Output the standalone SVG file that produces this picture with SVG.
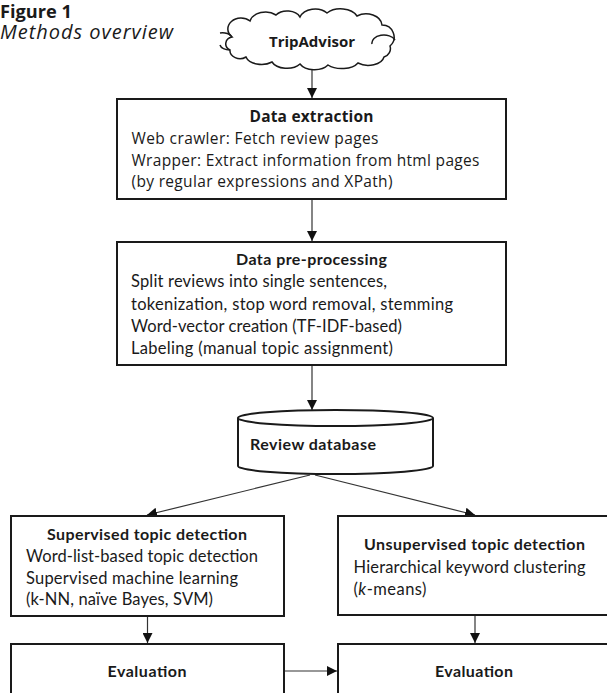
<svg xmlns="http://www.w3.org/2000/svg" width="607" height="693" viewBox="0 0 607 693">
<style>
.box{fill:#fff;stroke:#1a1a1a;stroke-width:2}
.ln{fill:none;stroke:#333;stroke-width:1.2}
.os{font-family:"Open Sans","Liberation Sans",sans-serif;fill:#1a1a1a}
.la{font-family:Lato,"Liberation Sans",sans-serif;fill:#1a1a1a}
.b{font-weight:bold}
.c{text-anchor:middle}
.r{font-size:16.5px}
.h{font-size:16px}
</style>
<defs>
<marker id="ah" viewBox="0 0 10 10" refX="10" refY="5" markerWidth="10" markerHeight="10" markerUnits="userSpaceOnUse" orient="auto">
<path d="M0,0 L10,5 L0,10 z" fill="#111"/>
</marker>
</defs>
<rect width="607" height="693" fill="#fff"/>
<g id="title">
<text class="os b" x="0" y="18" font-size="18.5" textLength="72" lengthAdjust="spacingAndGlyphs">Figure 1</text>
<text class="os" x="0" y="39" font-size="20" font-style="italic" textLength="173" lengthAdjust="spacing">Methods overview</text>
</g>
<g id="connectors">
<line class="ln" x1="312" y1="65" x2="312" y2="98" marker-end="url(#ah)"/>
<line class="ln" x1="312" y1="199" x2="312" y2="241" marker-end="url(#ah)"/>
<line class="ln" x1="312" y1="365" x2="312" y2="410" marker-end="url(#ah)"/>
<line class="ln" x1="310" y1="475" x2="147" y2="515" marker-end="url(#ah)"/>
<line class="ln" x1="315" y1="475" x2="475" y2="515" marker-end="url(#ah)"/>
<line class="ln" x1="147.5" y1="616" x2="147.5" y2="643" marker-end="url(#ah)"/>
<line class="ln" x1="475" y1="615" x2="475" y2="643" marker-end="url(#ah)"/>
<line class="ln" x1="285" y1="671" x2="337" y2="671" marker-end="url(#ah)"/>
</g>
<g id="tripadvisor">
<path fill="#fff" stroke="#1a1a1a" stroke-width="1.5" d="M232,37 A12,10 0 0 1 250,21 A16,12 0 0 1 276,15 A14,10 0 0 1 300,17 A16,12 0 0 1 327,13 A18,12 0 0 1 357,16 A16,12 0 0 1 382,25 A12,12 0 0 1 390,46 A10,9 0 0 1 384,57 A16,10 0 0 1 358,63 A18,10 0 0 1 328,65 A16,10 0 0 1 300,64 A16,10 0 0 1 272,62 A16,10 0 0 1 246,57 A10,8 0 0 1 230,50 A8,7 0 0 1 232,37 Z"/>
<path fill="none" stroke="#1a1a1a" stroke-width="1.5" d="M232,37 A10,6 0 0 0 220,33 M230,50 A10,6 0 0 1 220,45 M372,44 A12,8 0 0 1 395,40"/>
<text class="os b c" x="312" y="47" font-size="15">TripAdvisor</text>
</g>
<g id="data-extraction">
<rect class="box" x="117" y="99" width="389" height="100"/>
<text class="os b c" x="311.5" y="122" font-size="15.5" textLength="124" lengthAdjust="spacing">Data extraction</text>
<text class="os" x="131.5" y="143.5" font-size="15.5" textLength="247" lengthAdjust="spacing">Web crawler: Fetch review pages</text>
<text class="os" x="131.5" y="165.5" font-size="15.5" textLength="348" lengthAdjust="spacing">Wrapper: Extract information from html pages</text>
<text class="os" x="131.5" y="187" font-size="15.5" textLength="261" lengthAdjust="spacing">(by regular expressions and XPath)</text>
</g>
<g id="data-preprocessing">
<rect class="box" x="117" y="242" width="389" height="123"/>
<text class="la b c h" x="311.5" y="264.5" textLength="151" lengthAdjust="spacing">Data pre-processing</text>
<text class="la r" x="131" y="287" textLength="256" lengthAdjust="spacing">Split reviews into single sentences,</text>
<text class="la r" x="131" y="309.5" textLength="322" lengthAdjust="spacing">tokenization, stop word removal, stemming</text>
<text class="la r" x="131" y="332" textLength="271" lengthAdjust="spacing">Word-vector creation (TF-IDF-based)</text>
<text class="la r" x="131" y="354" textLength="262" lengthAdjust="spacing">Labeling (manual topic assignment)</text>
</g>
<g id="review-database">
<path fill="#fff" stroke="#1a1a1a" stroke-width="2" d="M238,418 L238,466 A97.5,8 0 0 0 433,466 L433,418"/>
<ellipse cx="335.5" cy="418" rx="97.5" ry="8" fill="#fff" stroke="#1a1a1a" stroke-width="2"/>
<text class="la b h" x="250" y="450" textLength="126" lengthAdjust="spacing">Review database</text>
</g>
<g id="supervised">
<rect class="box" x="11" y="516" width="273" height="100"/>
<text class="la b c h" x="147" y="539.5" textLength="200" lengthAdjust="spacing">Supervised topic detection</text>
<text class="la r" x="26" y="562" textLength="232" lengthAdjust="spacing">Word-list-based topic detection</text>
<text class="la r" x="26" y="583.5" textLength="212" lengthAdjust="spacing">Supervised machine learning</text>
<text class="la r" x="26" y="605" textLength="187" lengthAdjust="spacing">(k-NN, naïve Bayes, SVM)</text>
</g>
<g id="unsupervised">
<rect class="box" x="338" y="516" width="280" height="99"/>
<text class="la b c h" x="474.5" y="550" textLength="221" lengthAdjust="spacing">Unsupervised topic detection</text>
<text class="la r" x="353.5" y="573" textLength="232" lengthAdjust="spacing">Hierarchical keyword clustering</text>
<text class="la r" x="353.5" y="594.5" textLength="73" lengthAdjust="spacing">(<tspan font-style="italic">k</tspan>-means)</text>
</g>
<g id="evaluation-left">
<rect class="box" x="11" y="644" width="273" height="60"/>
<text class="la b c h" x="147" y="677" textLength="79" lengthAdjust="spacing">Evaluation</text>
</g>
<g id="evaluation-right">
<rect class="box" x="338" y="644" width="280" height="60"/>
<text class="la b c h" x="474" y="677" textLength="78" lengthAdjust="spacing">Evaluation</text>
</g>
</svg>
